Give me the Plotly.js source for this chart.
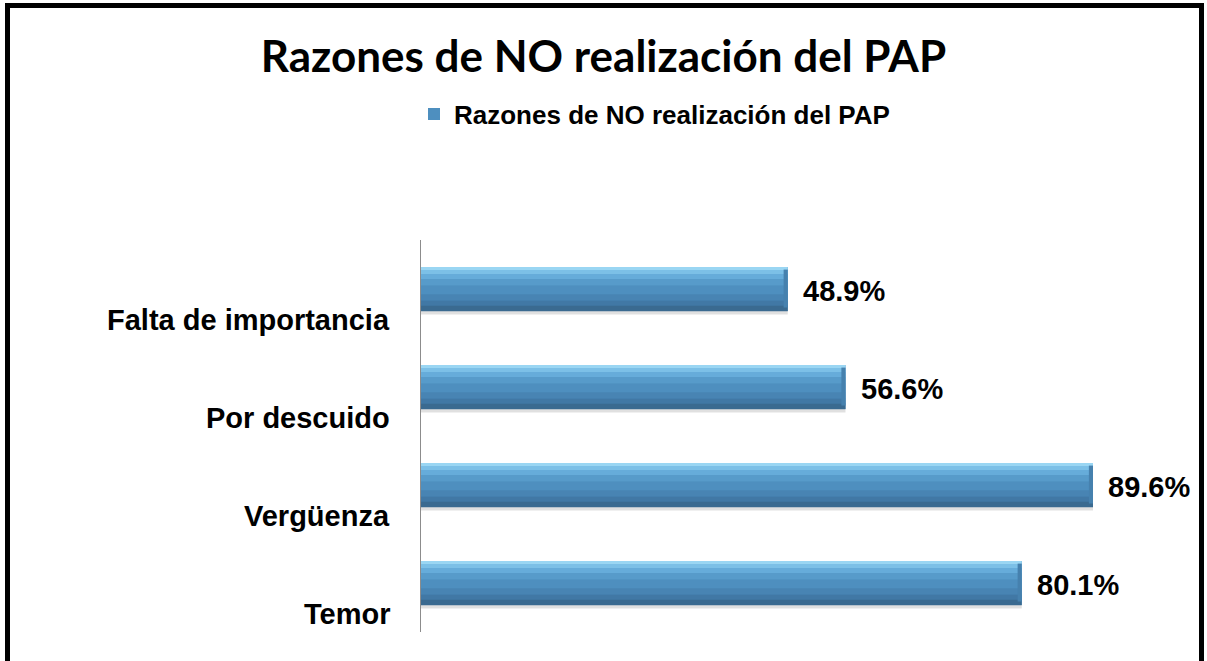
<!DOCTYPE html>
<html>
<head>
<meta charset="utf-8">
<script src="https://cdn.plot.ly/plotly-3.0.1.min.js"></script>
<style>
  html, body { margin: 0; padding: 0; background: #ffffff; overflow: hidden; }
  #frame { position: absolute; left: 5px; top: 3px; width: 1199px; height: 720px;
           border: 5px solid #000; box-sizing: border-box; }
  #chart { position: absolute; left: 0; top: 0; width: 1207px; height: 661px; }
</style>
</head>
<body>
<div id="frame"></div>
<div id="chart"></div>
<script>
const chartTitle = "Razones de NO realización del PAP";
const seriesName = "Razones de NO realización del PAP";
const categories = ["Falta de importancia", "Por descuido", "Vergüenza", "Temor"];
const values = [48.9, 56.6, 89.6, 80.1];
const valueLabels = ["48.9%", "56.6%", "89.6%", "80.1%"];

const labelFont = { family: "Liberation Sans, Arial, sans-serif", size: 29, color: "#000000", weight: "bold" };

const BAR_W = 0.45;
const BAR_TOP = -BAR_W / 2;
// shading bands across the bar thickness (style only)
const bands = [
  [0.00, 0.07, "#9ad6f3"],
  [0.07, 0.16, "#7cc0e7"],
  [0.16, 0.28, "#66acda"],
  [0.28, 0.42, "#579bca"],
  [0.42, 0.62, "#4e8fbf"],
  [0.62, 0.76, "#4884b3"],
  [0.76, 0.88, "#4178a5"],
  [0.88, 1.00, "#3a6a90"]
];

function layer(color, offset, width, opts) {
  return Object.assign({
    type: "bar", orientation: "h", y: categories, x: values,
    offset: offset, width: width, marker: { color: color, line: { width: 0 } },
    showlegend: false, hoverinfo: "skip"
  }, opts || {});
}

const traces = [
  layer("rgba(0,0,0,0.12)", BAR_TOP + BAR_W, 0.035),
  layer("#4e8fbf", BAR_TOP, BAR_W, { name: seriesName, showlegend: true, hoverinfo: "x+y" })
];
bands.forEach(b => traces.push(layer(b[2], BAR_TOP + b[0] * BAR_W, (b[1] - b[0]) * BAR_W + 0.002)));
// right end bevel derived from the same values
traces.push(Object.assign(layer("#4681ae", BAR_TOP + 0.06 * BAR_W, 0.86 * BAR_W),
  { x: values.map(() => 0.55), base: values.map(v => v - 0.55) }));

const annotations = [];
categories.forEach((c, i) => {
  annotations.push({
    xref: "paper", yref: "y", x: 0, y: c, xanchor: "right", yanchor: "middle",
    xshift: -29, yshift: -31, text: c, showarrow: false, font: labelFont
  });
  annotations.push({
    xref: "x", yref: "y", x: values[i], y: c, xanchor: "left", yanchor: "middle",
    xshift: 13, yshift: -2, text: valueLabels[i], showarrow: false, font: labelFont
  });
});

const layout = {
  width: 1207, height: 661,
  paper_bgcolor: "rgba(0,0,0,0)", plot_bgcolor: "rgba(0,0,0,0)",
  margin: { l: 421, r: 36, t: 240, b: 29, pad: 0 },
  barmode: "overlay",
  title: { text: chartTitle, x: 0.5, xref: "container", xanchor: "center",
           y: 1 - 57 / 661, yref: "container", yanchor: "middle",
           font: { family: "Lato, Open Sans, sans-serif", size: 44, color: "#000000", weight: "bold" } },
  showlegend: true,
  legend: { orientation: "h", xref: "container", yref: "container",
            x: 414 / 1207, xanchor: "left", y: 1 - 114 / 661, yanchor: "middle",
            font: { family: "Liberation Sans, Arial, sans-serif", size: 26, color: "#000000", weight: "bold" },
            bgcolor: "rgba(0,0,0,0)", borderwidth: 0 },
  xaxis: { range: [0, 100], showgrid: false, zeroline: false, showline: false,
           showticklabels: false, ticks: "", fixedrange: true },
  yaxis: { type: "category", autorange: "reversed", showgrid: false, zeroline: false,
           showline: true, linecolor: "#8c8c8c", linewidth: 1,
           showticklabels: false, ticks: "", fixedrange: true },
  annotations: annotations
};

Plotly.newPlot("chart", traces, layout, { displayModeBar: false, staticPlot: true });
</script>
</body>
</html>
